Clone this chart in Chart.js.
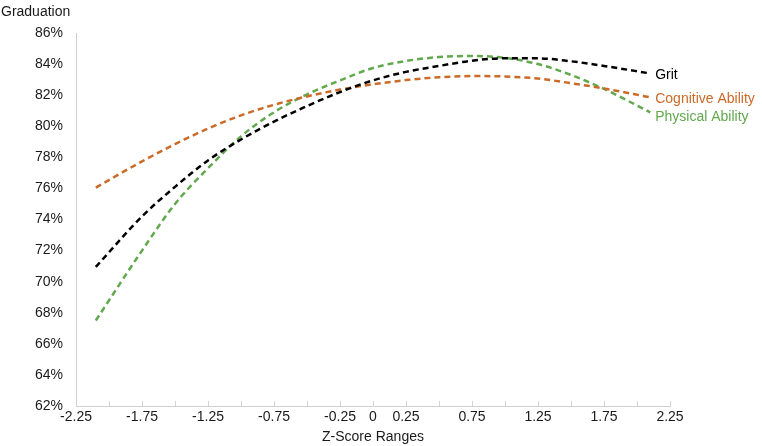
<!DOCTYPE html>
<html>
<head>
<meta charset="utf-8">
<script src="https://cdn.jsdelivr.net/npm/chart.js@4/dist/chart.umd.min.js"></script>
<style>
  html, body { margin: 0; padding: 0; background: #fff; }
  #wrap { width: 762px; height: 446px; position: relative; }
</style>
</head>
<body>
<div id="wrap"><canvas id="chart"></canvas></div>
<script>
// z-score positions the curves are read at
const zScores = [-2.1, -1.75, -1.5, -1.25, -1, -0.75, -0.5, -0.25, 0, 0.25, 0.5, 0.75, 1, 1.25, 1.5, 1.75, 2.1]

// graduation rate (%) for each series
const grit = [70.95, 74.2, 76.1, 77.8, 79.15, 80.3, 81.3, 82.2, 82.95, 83.5, 83.88, 84.22, 84.37, 84.37, 84.18, 83.88, 83.4]
const cognitive = [76.05, 77.74, 78.85, 79.85, 80.7, 81.38, 81.92, 82.36, 82.7, 82.97, 83.15, 83.23, 83.2, 83.07, 82.77, 82.43, 81.86]
const physical = [67.5, 72.0, 75.0, 77.3, 79.35, 80.9, 82.05, 82.95, 83.75, 84.2, 84.45, 84.52, 84.4, 84.0, 83.3, 82.4, 80.9]

// labelled ticks on the x axis (the rest are unlabelled marks)
const xTickLabels = [-2.25, -1.75, -1.25, -0.75, -0.25, 0, 0.25, 0.75, 1.25, 1.75, 2.25]

const seriesNames = ['Grit', 'Cognitive Ability', 'Physical Ability']
const seriesColors = ['#000000', '#cc6a28', '#62a84e']
const endLabelOffsets = [2, 2, 5]

const FONT = '"Liberation Sans", Arial, Helvetica, sans-serif'
const TEXT = '#1a1a1a'

function toPoints(values) {
	return zScores.map((z, i) => ({ x: z, y: values[i] }))
}

// draws the y title in the corner, the inner x tick marks and the end-of-line labels
const decorPlugin = {
	id: 'decor',
	afterDraw(chart) {
		const ctx = chart.ctx
		const xScale = chart.scales.x
		ctx.save()

		// little tick marks pointing up from the x axis
		ctx.strokeStyle = '#d4d4d4'
		ctx.lineWidth = 1
		xScale.ticks.forEach((t) => {
			const px = Math.round(xScale.getPixelForValue(t.value)) + 0.5
			ctx.beginPath()
			ctx.moveTo(px, xScale.top)
			ctx.lineTo(px, xScale.top - 5)
			ctx.stroke()
		})

		// axis title at the top left
		ctx.font = '14px ' + FONT
		ctx.fillStyle = TEXT
		ctx.textAlign = 'left'
		ctx.textBaseline = 'middle'
		ctx.fillText('Graduation', 1, 12)

		// series names next to the last point of each line
		chart.data.datasets.forEach((ds, i) => {
			const pts = chart.getDatasetMeta(i).data
			const last = pts[pts.length - 1]
			ctx.fillStyle = seriesColors[i]
			ctx.fillText(seriesNames[i], last.x + 5, last.y + endLabelOffsets[i])
		})
		ctx.restore()
	},
}

const datasets = [grit, cognitive, physical].map((values, i) => ({
	label: seriesNames[i],
	data: toPoints(values),
	borderColor: seriesColors[i],
	borderWidth: 2.5,
	borderDash: [6, 4],
	pointRadius: 0,
	fill: false,
	cubicInterpolationMode: 'monotone',
}))

new Chart(document.getElementById('chart'), {
	type: 'line',
	data: { datasets: datasets },
	plugins: [decorPlugin],
	options: {
		responsive: true,
		maintainAspectRatio: false,
		animation: false,
		layout: { padding: { top: 33, right: 92, bottom: 0, left: 0 } },
		plugins: {
			legend: { display: false },
			tooltip: { enabled: false },
		},
		scales: {
			x: {
				type: 'linear',
				min: -2.25,
				max: 2.25,
				afterFit: (scale) => { scale.height = 40 },
				grid: { display: true, drawOnChartArea: false, drawTicks: false },
				border: { color: '#cfcfcf', width: 1 },
				ticks: {
					stepSize: 0.25,
					autoSkip: false,
					maxRotation: 0,
					padding: 3,
					color: TEXT,
					font: { family: FONT, size: 14 },
					callback: (v) => {
						const r = Math.round(v * 100) / 100
						return xTickLabels.includes(r) ? String(r) : ''
					},
				},
				title: {
					display: true,
					text: 'Z-Score Ranges',
					color: TEXT,
					font: { family: FONT, size: 14 },
					padding: { top: 2, bottom: 0 },
				},
			},
			y: {
				min: 62,
				max: 86,
				afterFit: (scale) => { scale.width = 76 },
				grid: { display: false },
				border: { color: '#cfcfcf', width: 1 },
				ticks: {
					stepSize: 2,
					padding: 5,
					color: TEXT,
					font: { family: FONT, size: 14 },
					callback: (v) => v + '%',
				},
			},
		},
	},
})
</script>
</body>
</html>
